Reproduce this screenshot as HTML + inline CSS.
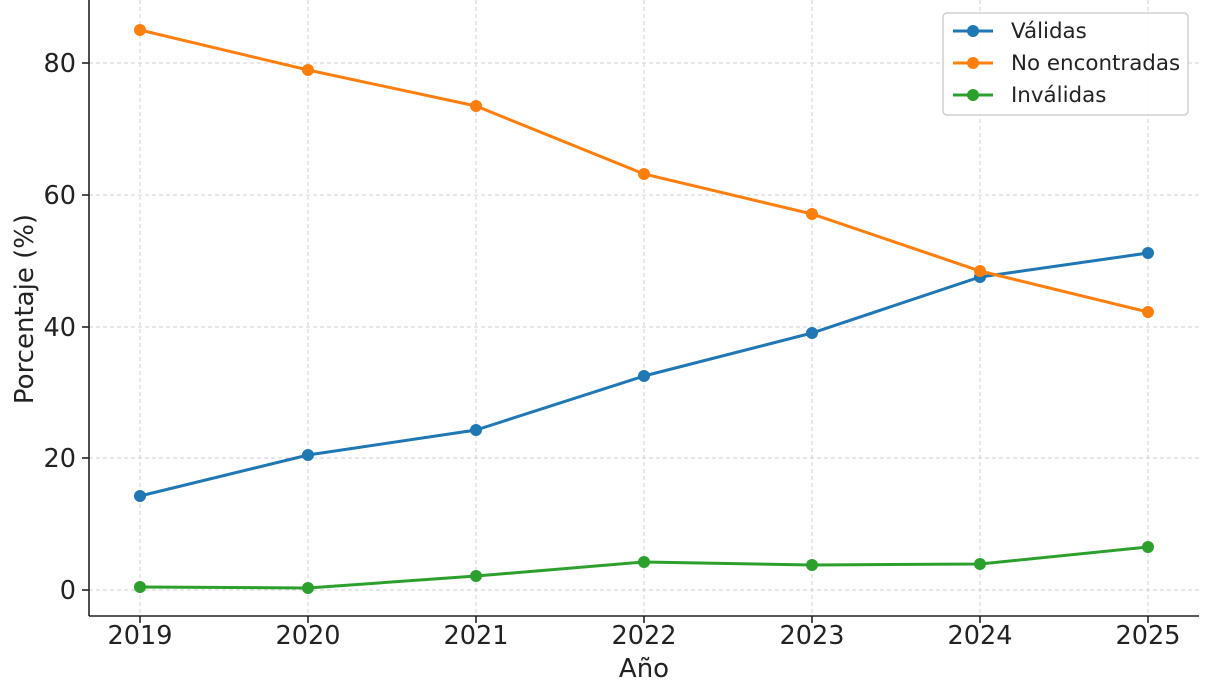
<!DOCTYPE html>
<html><head><meta charset="utf-8"><style>
body{margin:0;background:#fff;}
svg{display:block;font-family:"DejaVu Sans","Liberation Sans",sans-serif;}
</style></head><body>
<svg width="1214" height="698" viewBox="0 0 1214 698">
<rect width="1214" height="698" fill="#fff"/>
<g stroke="#d0d0d0" stroke-width="1" stroke-dasharray="4,3">
<line x1="140" y1="0" x2="140" y2="616"/><line x1="308" y1="0" x2="308" y2="616"/>
<line x1="476" y1="0" x2="476" y2="616"/><line x1="644" y1="0" x2="644" y2="616"/>
<line x1="812" y1="0" x2="812" y2="616"/><line x1="980" y1="0" x2="980" y2="616"/>
<line x1="1148" y1="0" x2="1148" y2="616"/>
<line x1="89" y1="590" x2="1199" y2="590"/><line x1="89" y1="458" x2="1199" y2="458"/>
<line x1="89" y1="327" x2="1199" y2="327"/><line x1="89" y1="195" x2="1199" y2="195"/>
<line x1="89" y1="63" x2="1199" y2="63"/>
</g>
<g stroke="#222" stroke-width="1.6">
<line x1="89" y1="0" x2="89" y2="616"/><line x1="89" y1="616" x2="1199" y2="616"/>
<line x1="82" y1="590" x2="89" y2="590"/><line x1="82" y1="458" x2="89" y2="458"/>
<line x1="82" y1="327" x2="89" y2="327"/><line x1="82" y1="195" x2="89" y2="195"/>
<line x1="82" y1="63" x2="89" y2="63"/>
<line x1="140" y1="616" x2="140" y2="623"/><line x1="308" y1="616" x2="308" y2="623"/>
<line x1="476" y1="616" x2="476" y2="623"/><line x1="644" y1="616" x2="644" y2="623"/>
<line x1="812" y1="616" x2="812" y2="623"/><line x1="980" y1="616" x2="980" y2="623"/>
<line x1="1148" y1="616" x2="1148" y2="623"/>
</g>
<g font-size="25.5" fill="#222" text-anchor="end">
<text x="76" y="599">0</text><text x="76" y="467">20</text><text x="76" y="336">40</text>
<text x="76" y="204">60</text><text x="76" y="72">80</text>
</g>
<g font-size="25.5" fill="#222" text-anchor="middle">
<text x="140" y="644">2019</text><text x="308" y="644">2020</text><text x="476" y="644">2021</text>
<text x="644" y="644">2022</text><text x="812" y="644">2023</text><text x="980" y="644">2024</text>
<text x="1148" y="644">2025</text>
</g>
<g font-size="26" fill="#222" text-anchor="middle">
<text x="644" y="677">Año</text>
<text transform="translate(33,309) rotate(-90)">Porcentaje (%)</text>
</g>
<g fill="none" stroke-width="3">
<polyline stroke="#1f77b4" points="140,496 308,455 476,430 644,376 812,333 980,277 1148,253"/>
<polyline stroke="#ff7f0e" points="140,30 308,70 476,106 644,174 812,214 980,271 1148,312"/>
<polyline stroke="#2ca02c" points="140,587 308,588 476,576 644,562 812,565 980,564 1148,547"/>
</g>
<g fill="#1f77b4"><circle cx="140" cy="496" r="6"/><circle cx="308" cy="455" r="6"/><circle cx="476" cy="430" r="6"/><circle cx="644" cy="376" r="6"/><circle cx="812" cy="333" r="6"/><circle cx="980" cy="277" r="6"/><circle cx="1148" cy="253" r="6"/></g>
<g fill="#ff7f0e"><circle cx="140" cy="30" r="6"/><circle cx="308" cy="70" r="6"/><circle cx="476" cy="106" r="6"/><circle cx="644" cy="174" r="6"/><circle cx="812" cy="214" r="6"/><circle cx="980" cy="271" r="6"/><circle cx="1148" cy="312" r="6"/></g>
<g fill="#2ca02c"><circle cx="140" cy="587" r="6"/><circle cx="308" cy="588" r="6"/><circle cx="476" cy="576" r="6"/><circle cx="644" cy="562" r="6"/><circle cx="812" cy="565" r="6"/><circle cx="980" cy="564" r="6"/><circle cx="1148" cy="547" r="6"/></g>
<rect x="943" y="13" width="245" height="102" rx="4" fill="#fff" fill-opacity="0.85" stroke="#d0d0d0" stroke-width="1.5"/>
<g stroke-width="3">
<line x1="953" y1="31" x2="993" y2="31" stroke="#1f77b4"/><circle cx="973" cy="31" r="6" fill="#1f77b4"/>
<line x1="953" y1="63" x2="993" y2="63" stroke="#ff7f0e"/><circle cx="973" cy="63" r="6" fill="#ff7f0e"/>
<line x1="953" y1="95" x2="993" y2="95" stroke="#2ca02c"/><circle cx="973" cy="95" r="6" fill="#2ca02c"/>
</g>
<g font-size="21.4" fill="#222">
<text x="1011" y="38">Válidas</text><text x="1011" y="70">No encontradas</text><text x="1011" y="102">Inválidas</text>
</g>
</svg>
</body></html>
